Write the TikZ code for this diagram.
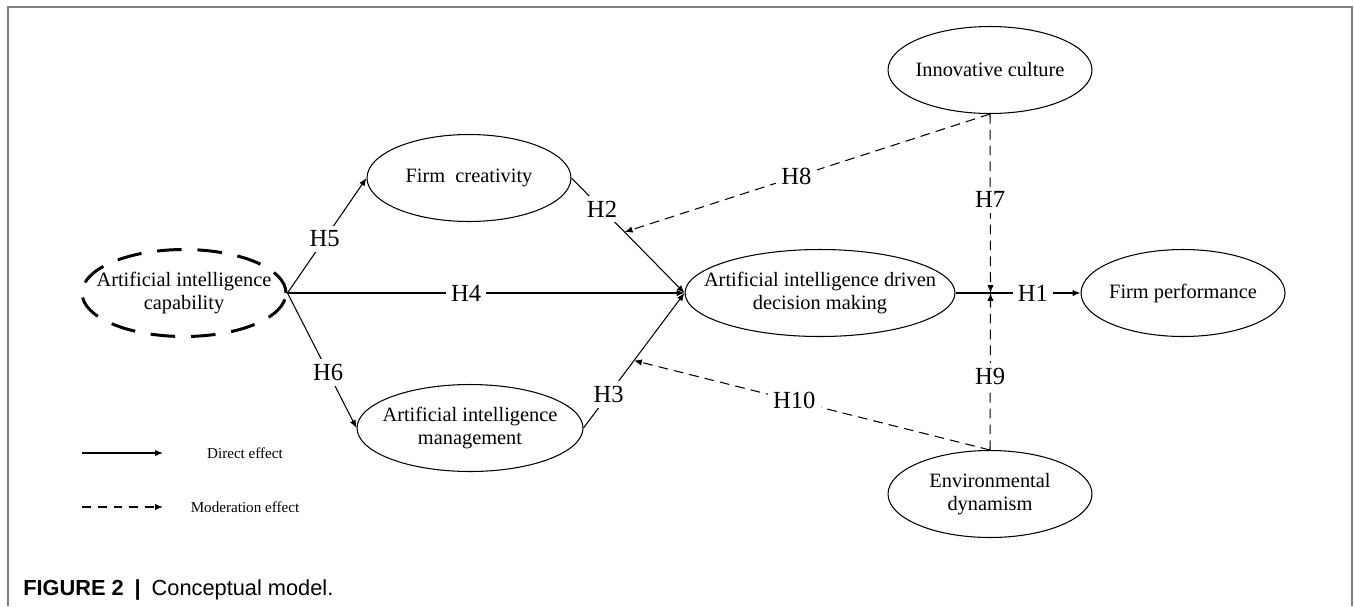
\documentclass[tikz,border=0pt]{standalone}
\usepackage{fontspec}
\setmainfont{Liberation Serif}
\newfontfamily\capfont{Liberation Sans}
\usetikzlibrary{arrows.meta}
\usetikzlibrary{shapes.geometric}
\usetikzlibrary{positioning}

\begin{document}
\begin{tikzpicture}[x=0.02cm, y=-0.02cm,
    ell/.style={shape=ellipse, draw, line width=0.6pt, inner sep=0pt,
      minimum width=4.08cm, minimum height=1.74cm},
    txt/.style={align=center, font=\fontsize{11.6}{13.5}\selectfont},
    hyp/.style={fill=white, inner sep=3pt, font=\fontsize{14}{16}\selectfont},
    dir/.style={line width=0.6pt, -{Latex[length=4.5pt,width=3.6pt]}},
    mod/.style={dir, dash pattern=on 5.5pt off 3.5pt},
    leg/.style={font=\fontsize{8.6}{10}\selectfont}]
          \useasboundingbox (0,0) rectangle (1354,606);
          \draw[black!50, line width=0.6pt] (8,606) -- (8,7) -- (1352,7) -- (1352,606);

          \node[ell, line width=1.7pt, dash pattern=on 14pt off 9pt,
            label={[txt]center:{Artificial intelligence\\capability}}] (aic) at (184,293) {};
          \node[ell, label={[txt]center:{Firm~ creativity}}] (fc) at (469,178) {};
          \node[ell, minimum width=4.52cm,
            label={[txt]center:{Artificial intelligence\\management}}] (aim) at (470,428) {};
          \node[ell, minimum width=5.4cm,
            label={[txt]center:{Artificial intelligence driven\\decision making}}] (aiddm) at (820,293) {};
          \node[ell, label={[txt]center:{Innovative culture}}] (ic) at (990,70) {};
          \node[ell, label={[txt]center:{Environmental\\dynamism}}] (ed) at (990,494) {};
          \node[ell, label={[txt]center:{Firm performance}}] (fp) at (1183,293) {};

          \draw[dir] (aic.east) -- node[hyp, pos=0.47] {H5} (fc.west);
          \draw[dir] (aic.east) -- node[hyp, pos=0.45] {H4} (aiddm.west);
          \draw[dir] (aic.east) -- node[hyp, pos=0.59] {H6} (aim.west);
          \draw[dir] (fc.east) -- node[hyp, pos=0.27] {H2} coordinate[pos=0.47] (m2) (aiddm.west);
          \draw[dir] (aim.east) -- node[hyp, pos=0.25] {H3} coordinate[pos=0.5] (m3) (aiddm.west);
          \draw[dir] (aiddm.east) -- coordinate[pos=0.28] (m1) node[hyp, pos=0.62] {H1} (fp.west);
          \draw[mod] (ic.south) -- node[hyp, pos=0.48] {H7} (m1);
          \draw[mod] (ed.north) -- node[hyp, pos=0.47] {H9} (m1);
          \draw[mod] (ic.south) -- node[hyp, pos=0.53] {H8} (m2);
          \draw[mod] (ed.north) -- node[hyp, pos=0.55] {H10} (m3);

          \coordinate (l1) at (82,453);
          \coordinate[right=1.62cm of l1] (l2);
          \coordinate[below=1.08cm of l1] (l3);
          \coordinate[right=1.62cm of l3] (l4);
          \draw[dir] (l1) -- (l2);
          \draw[mod, dash pattern=on 5pt off 4pt] (l3) -- (l4);
          \node[leg] (direct) at (245,453) {Direct effect};
          \node[leg] (moder) at (245,507) {Moderation effect};

          \node[anchor=base west, inner sep=0pt, font=\capfont\fontsize{12.4}{14}\selectfont]
            (caption) at (23,595) {\textbf{FIGURE 2}\hspace{0.5em}\textbf{|}\hspace{0.5em}Conceptual model.};
        \end{tikzpicture}
\end{document}
